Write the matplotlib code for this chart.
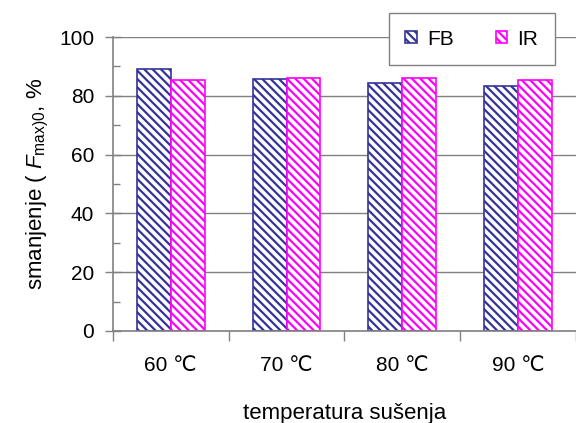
import matplotlib
matplotlib.use("Agg")
import matplotlib.pyplot as plt
from matplotlib.ticker import FixedLocator, MultipleLocator
import numpy as np

# ── Data ─────────────────────────────────────────────────────────────────────
categories = ["60 ℃", "70 ℃", "80 ℃", "90 ℃"]
fb_values = [89.0, 85.6, 84.4, 83.3]
ir_values = [85.4, 86.1, 86.1, 85.4]
series_names = ["FB", "IR"]

plt.rcParams["font.family"] = ["Liberation Sans", "DejaVu Sans"]
plt.rcParams["mathtext.fontset"] = "custom"
plt.rcParams["mathtext.rm"] = "Liberation Sans"
plt.rcParams["mathtext.it"] = "Liberation Sans:italic"
plt.rcParams["hatch.linewidth"] = 1.6

FB_COLOR = "#333399"
IR_COLOR = "#FF00FF"
AXIS_GRAY = "#808080"
FS = 15

fig = plt.figure(figsize=(5.76, 4.23), dpi=100)
ax = fig.add_axes([0.196, 0.2175, 0.804, 0.695])

x = np.arange(len(categories)) + 0.5
w = 0.293
ax.bar(x - w / 2, fb_values, w, facecolor="white", edgecolor=FB_COLOR,
       hatch="\\\\\\\\", linewidth=1.2, label=series_names[0], zorder=2)
ax.bar(x + w / 2, ir_values, w, facecolor="white", edgecolor=IR_COLOR,
       hatch="\\\\\\\\", linewidth=1.2, label=series_names[1], zorder=2)

ax.set_xlim(0, len(categories))
ax.set_ylim(0, 100)

# x: tick marks at boundaries, labels at centres
ax.xaxis.set_major_locator(FixedLocator(np.arange(len(categories) + 1)))
ax.xaxis.set_minor_locator(FixedLocator(x))
ax.set_xticklabels([""] * (len(categories) + 1))
ax.set_xticklabels(categories, minor=True)
ax.tick_params(axis="x", which="major", direction="out", length=7,
               width=1, color=AXIS_GRAY)
ax.tick_params(axis="x", which="minor", length=0, pad=18, labelsize=FS)

# y ticks
ax.yaxis.set_major_locator(MultipleLocator(20))
ax.yaxis.set_minor_locator(MultipleLocator(10))
ax.tick_params(axis="y", which="major", direction="inout", length=11,
               width=1, color=AXIS_GRAY, pad=8, labelsize=FS)
ax.tick_params(axis="y", which="minor", direction="in", length=5,
               width=1, color=AXIS_GRAY)

ax.grid(True, axis="y", which="major", color=AXIS_GRAY, linewidth=1, zorder=0)
ax.set_axisbelow(True)

for side in ("top", "right"):
    ax.spines[side].set_visible(False)
for side in ("left", "bottom"):
    ax.spines[side].set_color(AXIS_GRAY)
    ax.spines[side].set_linewidth(1.2)

ax.set_ylabel(r"smanjenje ( $\mathit{F}_{\mathrm{max})0}$, %", fontsize=16,
              labelpad=6)
ax.set_xlabel("temperatura sušenja", fontsize=16, labelpad=20)

leg = ax.legend(loc="upper right", bbox_to_anchor=(0.955, 1.082),
                ncol=2, fontsize=FS, frameon=True,
                fancybox=False, edgecolor=AXIS_GRAY, framealpha=1,
                handlelength=0.55, handleheight=0.55, handletextpad=0.5,
                borderpad=0.8, borderaxespad=0, columnspacing=2.0)
leg.get_frame().set_linewidth(1)
leg.set_zorder(5)

fig.savefig("out.png", dpi=100)
